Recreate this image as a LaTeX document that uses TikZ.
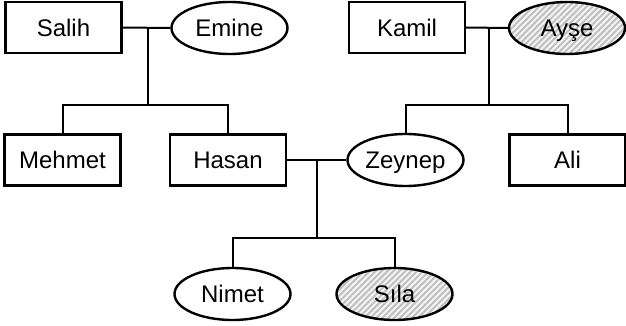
\documentclass[tikz,border=0pt]{standalone}
\usepackage{fontspec}
\setmainfont{Liberation Sans}
\usetikzlibrary{shapes.geometric,patterns.meta}
\begin{document}
\begin{tikzpicture}[x=1pt,y=-1pt,
  every node/.style={font=\fontsize{24}{29}\selectfont, inner sep=0pt, text height=17.2pt, text depth=0pt},
  male/.style={draw, line width=2.4pt, rectangle, minimum width=116pt, minimum height=51pt},
  female/.style={draw, line width=2.4pt, ellipse, minimum width=116pt, minimum height=52pt},
  shaded/.style={preaction={fill=gray!8}, pattern={Lines[angle=45,distance=4.2pt,line width=2pt]}, pattern color=gray!50},
  link/.style={line width=2pt}]
\useasboundingbox (0,0) rectangle (626,326);
% generation 1
\node[male]   (salih) at (63.5,27.5) {Salih};
\node[female] (emine) at (229.5,28) {Emine};
\node[male]   (kamil) at (407,27.5) {Kamil};
\node[female, shaded] (ayse) at (567,28) {Ayşe};
% generation 2
\node[male]   (mehmet) at (62.5,160) {Mehmet};
\node[male]   (hasan)  at (228,160) {Hasan};
\node[female] (zeynep) at (405.5,160) {Zeynep};
\node[male]   (ali)    at (567.5,160) {Ali};
% generation 3
\node[female] (nimet) at (232.5,294) {Nimet};
\node[female, shaded] (sila) at (394.5,294) {Sıla};
% junctions
\coordinate (m1) at (148,28);
\coordinate (j1) at (148,105);
\coordinate (m2) at (489,28);
\coordinate (j2) at (489,105);
\coordinate (m3) at (317,161);
\coordinate (j3) at (317,238);
% connectors
\draw[link] (salih.east) -- (emine.west);
\draw[link] (m1) -- (j1);
\draw[link] (mehmet.north) |- (j1) -| (hasan.north);
\draw[link] (kamil.east) -- (ayse.west);
\draw[link] (m2) -- (j2);
\draw[link] (zeynep.north) |- (j2) -| (ali.north);
\draw[link] (hasan.east) -- (zeynep.west);
\draw[link] (m3) -- (j3);
\draw[link] (nimet.north) |- (j3) -| (sila.north);
\end{tikzpicture}
\end{document}
